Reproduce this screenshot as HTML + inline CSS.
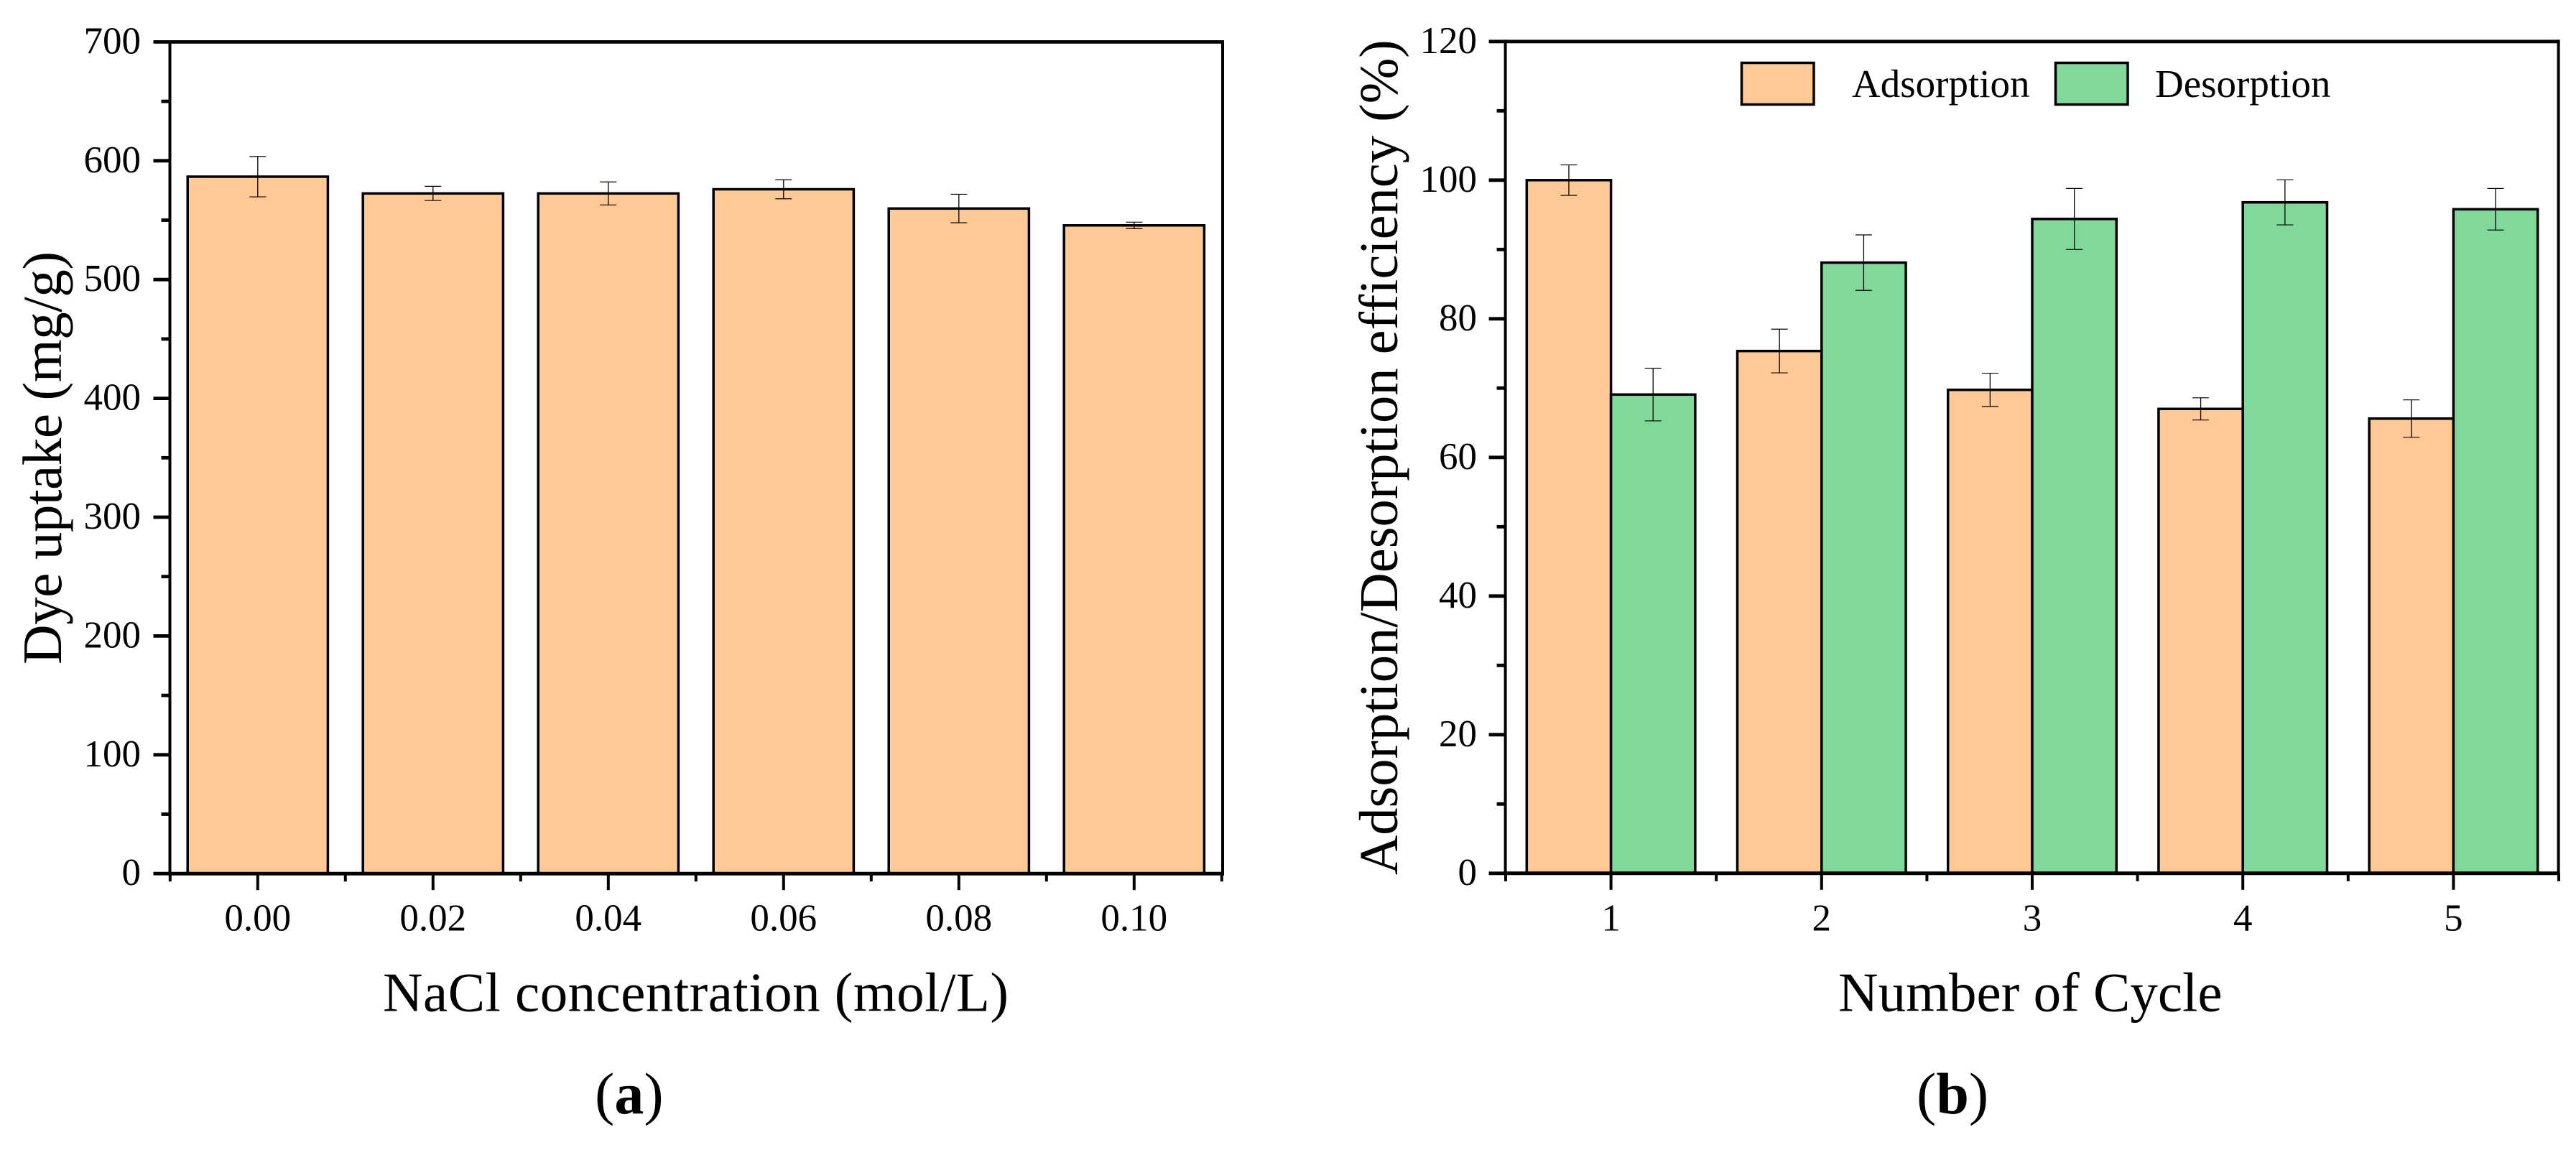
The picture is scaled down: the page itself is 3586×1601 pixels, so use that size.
<!DOCTYPE html>
<html lang="en">
<head>
<meta charset="utf-8">
<title>Dye uptake and adsorption/desorption efficiency</title>
<style>
html,body{margin:0;padding:0;background:#fff;width:3586px;height:1601px;overflow:hidden}
svg{display:block}
text{font-family:"Liberation Serif",serif;fill:#000}
</style>
</head>
<body>
<svg id="figure" xmlns="http://www.w3.org/2000/svg" width="3586" height="1601" viewBox="0 0 3586 1601">
  <rect width="3586" height="1601" fill="#fff"/>
  <g id="chart-a"></g>
  <g id="chart-b"></g>
  <text transform="translate(85 925) rotate(-90)" font-size="77" textLength="575">Dye uptake (mg/g)</text>
  <text x="533" y="1407.6" font-size="77" textLength="871">NaCl concentration (mol/L)</text>
  <text x="828" y="1550" font-size="82">(<tspan font-weight="bold">a</tspan>)</text>
  <text transform="translate(1945 1218) rotate(-90)" font-size="76.5">Adsorption/Desorption efficiency (%)</text>
  <text x="2559" y="1407.6" font-size="77">Number of Cycle</text>
  <text x="2668" y="1550" font-size="82">(<tspan font-weight="bold">b</tspan>)</text>
  <rect x="2424.5" y="87.5" width="100.5" height="58" fill="#FFC996" stroke="#000" stroke-width="3.5"/>
  <text x="2578" y="135" font-size="55">Adsorption</text>
  <rect x="2861.5" y="87.5" width="100.5" height="58" fill="#80D89A" stroke="#000" stroke-width="3.5"/>
  <text x="3000" y="135" font-size="55">Desorption</text>
</svg>
<script>
// Chart (a) data
const naclCategories = ["0.00", "0.02", "0.04", "0.06", "0.08", "0.10"];
const dyeUptake = [586.6, 572.5, 572.5, 576, 559.8, 545.6];
const dyeUptakeError = [17, 6, 9.7, 8, 12, 2.7];
const uptakeTicks = [0, 100, 200, 300, 400, 500, 600, 700];

// Chart (b) data
const cycleCategories = ["1", "2", "3", "4", "5"];
const adsorption = [100, 75.35, 69.75, 67, 65.6];
const adsorptionError = [2.2, 3.15, 2.4, 1.6, 2.7];
const desorption = [69.07, 88.1, 94.4, 96.8, 95.8];
const desorptionError = [3.8, 4, 4.4, 3.25, 3];
const efficiencyTicks = [0, 20, 40, 60, 80, 100, 120];

const NS = "http://www.w3.org/2000/svg";
const ORANGE = "#FFC996";
const GREEN = "#80D89A";

function el(parent, tag, attrs) {
  const node = document.createElementNS(NS, tag);
  for (const k in attrs) node.setAttribute(k, attrs[k]);
  parent.appendChild(node);
  return node;
}

// Axis scales
const aY = v => 1216.2 - v * 1.654;
const aX = i => 358.8 + i * 244;
const bY = v => 1215.8 - v * 9.65;
const bX = i => 2242.6 + i * 293.2;

function errorBar(parent, cx, value, err, yScale, capHalf, label) {
  const g = el(parent, "g", {});
  
  
  el(g, "line", {x1: cx, x2: cx, y1: yScale(value + err), y2: yScale(value - err), stroke: "#000", "stroke-width": 1.3});
  el(g, "line", {x1: cx - capHalf, x2: cx + capHalf, y1: yScale(value + err), y2: yScale(value + err), stroke: "#000", "stroke-width": 1.2});
  el(g, "line", {x1: cx - capHalf, x2: cx + capHalf, y1: yScale(value - err), y2: yScale(value - err), stroke: "#000", "stroke-width": 1.2});
}

function drawFrame(parent, cfg) {
  const {left, right, top, bottom, yScale, yTicks, xScale, xLabels} = cfg;
  const frame = el(parent, "g", {});
  
  
  // frame lines
  el(frame, "line", {x1: left, x2: left, y1: top - 2.4, y2: bottom + 2.5, stroke: "#000", "stroke-width": 4});
  el(frame, "line", {x1: right, x2: right, y1: top - 2.4, y2: bottom + 2.5, stroke: "#000", "stroke-width": 4});
  el(frame, "line", {x1: left, x2: right + 2, y1: top, y2: top, stroke: "#000", "stroke-width": 4.8});
  el(frame, "line", {x1: left, x2: right + 2, y1: bottom, y2: bottom, stroke: "#000", "stroke-width": 5});

  // y ticks and labels
  yTicks.forEach((v, idx) => {
    const y = yScale(v);
    const t = el(frame, "line", {x1: left - 23, x2: left, y1: y, y2: y, stroke: "#000", "stroke-width": 4.8});
    
    
    const lbl = el(frame, "text", {x: cfg.yLabelRight, y: y + 16, "font-size": 53, "text-anchor": "end"});
    lbl.textContent = String(v);
    
    
    if (idx < yTicks.length - 1) {
      const mid = yScale((v + yTicks[idx + 1]) / 2);
      const m = el(frame, "line", {x1: left - 12, x2: left, y1: mid, y2: mid, stroke: "#000", "stroke-width": 4.8});
      
      
    }
  });

  // x ticks and labels
  xLabels.forEach((name, i) => {
    const x = xScale(i);
    const t = el(frame, "line", {x1: x, x2: x, y1: bottom, y2: bottom + 23, stroke: "#000", "stroke-width": 4});
    
    
    const lbl = el(frame, "text", {x: x, y: 1295.4, "font-size": 53, "text-anchor": "middle"});
    lbl.textContent = name;
    
    
  });
  for (let i = -0.5; i <= xLabels.length - 0.5; i += 1) {
    const x = xScale(i);
    const m = el(frame, "line", {x1: x, x2: x, y1: bottom, y2: bottom + 11, stroke: "#000", "stroke-width": 4});
    
    
  }
}

// Chart (a)
const chartA = document.getElementById("chart-a");
dyeUptake.forEach((v, i) => {
  const half = 244 * 0.4;
  const r = el(chartA, "rect", {x: aX(i) - half, y: aY(v), width: half * 2, height: aY(0) - aY(v), fill: ORANGE, stroke: "#000", "stroke-width": 3.5});
  
  
});
dyeUptake.forEach((v, i) => {
  errorBar(chartA, aX(i), v, dyeUptakeError[i], aY, 11.5, 'error-bar-nacl-' + naclCategories[i]);
});
drawFrame(chartA, {
  frameName: 'axes-a', left: 236.5, right: 1702, top: 58.4, bottom: 1216.2,
  yScale: aY, yTicks: uptakeTicks, xScale: aX, xLabels: naclCategories, yLabelRight: 196
});

// Chart (b)
const chartB = document.getElementById("chart-b");
const barW = 293.2 * 0.4;
cycleCategories.forEach((c, i) => {
  const ra = el(chartB, "rect", {x: bX(i) - barW, y: bY(adsorption[i]), width: barW, height: bY(0) - bY(adsorption[i]), fill: ORANGE, stroke: "#000", "stroke-width": 3.5});
  
  
  const rd = el(chartB, "rect", {x: bX(i), y: bY(desorption[i]), width: barW, height: bY(0) - bY(desorption[i]), fill: GREEN, stroke: "#000", "stroke-width": 3.5});
  
  
});
cycleCategories.forEach((c, i) => {
  errorBar(chartB, bX(i) - barW / 2, adsorption[i], adsorptionError[i], bY, 11.5, 'error-bar-adsorption-cycle-' + c);
  errorBar(chartB, bX(i) + barW / 2, desorption[i], desorptionError[i], bY, 11.5, 'error-bar-desorption-cycle-' + c);
});
drawFrame(chartB, {
  frameName: 'axes-b', left: 2095.6, right: 3561.6, top: 57.8, bottom: 1215.8,
  yScale: bY, yTicks: efficiencyTicks, xScale: bX, xLabels: cycleCategories, yLabelRight: 2056
});
</script>
</body>
</html>
